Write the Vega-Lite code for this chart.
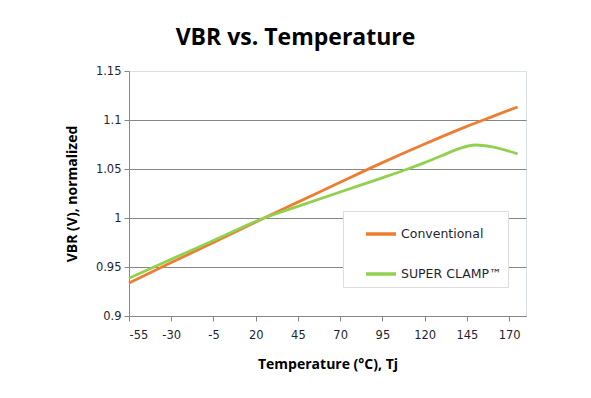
{
  "$schema": "https://vega.github.io/schema/vega-lite/v6.json",
  "width": 397,
  "height": 245,
  "autosize": "none",
  "padding": {"left": 129, "top": 71, "right": 65, "bottom": 82},
  "background": "white",
  "title": {
    "text": "VBR vs. Temperature",
    "font": "Open Sans",
    "fontSize": 23,
    "fontWeight": "bold",
    "color": "#000000",
    "anchor": "middle",
    "dx": -32,
    "offset": 15
  },
  "config": {
    "view": {"stroke": "#d9e0e8", "strokeWidth": 1},
    "axis": {
      "labelFont": "DejaVu Sans",
      "labelFontSize": 11.5,
      "labelColor": "#1f1f2f",
      "titleFont": "Open Sans",
      "titleFontSize": 14,
      "titleFontWeight": "bold",
      "titleColor": "#000000",
      "domainColor": "#868686",
      "tickColor": "#868686",
      "tickSize": 5
    }
  },
  "data": {
    "values": [
      {"t": -55, "v": 0.9337, "s": "Conventional"},
      {"t": -30, "v": 0.9545, "s": "Conventional"},
      {"t": -5, "v": 0.975, "s": "Conventional"},
      {"t": 25, "v": 1.0, "s": "Conventional"},
      {"t": 45, "v": 1.0162, "s": "Conventional"},
      {"t": 70, "v": 1.0365, "s": "Conventional"},
      {"t": 95, "v": 1.0565, "s": "Conventional"},
      {"t": 120, "v": 1.0755, "s": "Conventional"},
      {"t": 145, "v": 1.0935, "s": "Conventional"},
      {"t": 160, "v": 1.1035, "s": "Conventional"},
      {"t": 175, "v": 1.1133, "s": "Conventional"},
      {"t": -55, "v": 0.9385, "s": "SUPER CLAMP™"},
      {"t": -30, "v": 0.958, "s": "SUPER CLAMP™"},
      {"t": -5, "v": 0.977, "s": "SUPER CLAMP™"},
      {"t": 25, "v": 1.0, "s": "SUPER CLAMP™"},
      {"t": 45, "v": 1.0118, "s": "SUPER CLAMP™"},
      {"t": 70, "v": 1.0265, "s": "SUPER CLAMP™"},
      {"t": 95, "v": 1.041, "s": "SUPER CLAMP™"},
      {"t": 110, "v": 1.05, "s": "SUPER CLAMP™"},
      {"t": 120, "v": 1.0565, "s": "SUPER CLAMP™"},
      {"t": 130, "v": 1.0635, "s": "SUPER CLAMP™"},
      {"t": 140, "v": 1.0705, "s": "SUPER CLAMP™"},
      {"t": 150, "v": 1.0745, "s": "SUPER CLAMP™"},
      {"t": 160, "v": 1.0725, "s": "SUPER CLAMP™"},
      {"t": 175, "v": 1.0655, "s": "SUPER CLAMP™"}
    ]
  },
  "mark": {"type": "line", "interpolate": "monotone", "strokeWidth": 2.8},
  "encoding": {
    "x": {
      "field": "t",
      "type": "quantitative",
      "scale": {"domain": [-55, 180], "nice": false, "zero": false},
      "axis": {
        "title": "Temperature (°C), Tj",
        "values": [-55, -30, -5, 20, 45, 70, 95, 120, 145, 170],
        "labelExpr": "'' + datum.value",
        "grid": false,
        "labelPadding": 8,
        "titlePadding": 17
      }
    },
    "y": {
      "field": "v",
      "type": "quantitative",
      "scale": {"domain": [0.9, 1.15], "nice": false, "zero": false},
      "axis": {
        "title": "VBR (V), normalized",
        "values": [0.9, 0.95, 1.0, 1.05, 1.1, 1.15],
        "labelExpr": "format(datum.value, '.2~f')",
        "labelPadding": 3,
        "titlePadding": 16,
        "grid": true,
        "gridColor": {"condition": {"test": "datum.value > 1.14", "value": "#d9e0e8"}, "value": "#868686"},
        "gridWidth": 1.2
      }
    },
    "color": {
      "field": "s",
      "type": "nominal",
      "scale": {"domain": ["Conventional", "SUPER CLAMP™"], "range": ["#ED7D31", "#92D050"]},
      "legend": {
        "orient": "none",
        "legendX": 214,
        "legendY": 140,
        "title": null,
        "symbolType": "stroke",
        "symbolSize": 900,
        "symbolStrokeWidth": 3.5,
        "symbolOffset": 15,
        "labelFont": "DejaVu Sans",
        "labelFontSize": 12.5,
        "labelColor": "#1f1f2f",
        "labelOffset": 3,
        "strokeColor": "#dddddd",
        "fillColor": "white",
        "padding": 6,
        "rowPadding": 16
      }
    }
  }
}
